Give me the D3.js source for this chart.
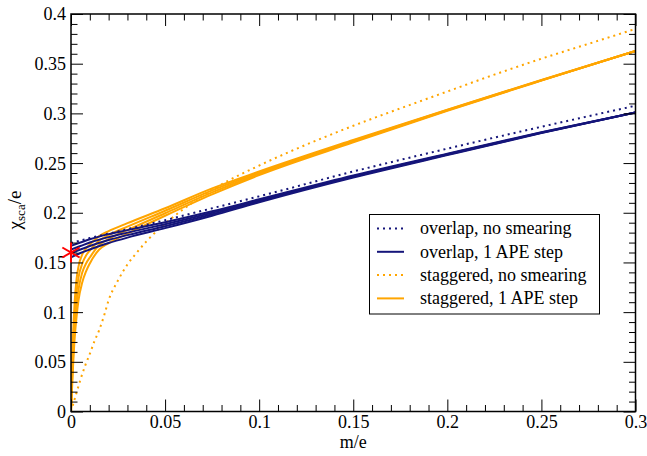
<!DOCTYPE html>
<html>
<head>
<meta charset="utf-8">
<script src="https://cdn.jsdelivr.net/npm/d3@7"></script>
<style>
  html, body { margin: 0; padding: 0; background: #fff; }
  svg, svg text { font-family: "Liberation Serif", "DejaVu Serif", "Times New Roman", serif; }
</style>
</head>
<body>
<svg id="chart" width="647" height="456"></svg>
<script>
// Overlap fermions, 1 APE smearing step: four curves on a common mass grid
const overlapApeMass = [0, 0.005, 0.01, 0.02, 0.03, 0.05, 0.075, 0.1, 0.15, 0.2, 0.25, 0.3];
const overlapApe1 = [0.1668, 0.1700, 0.1733, 0.1785, 0.1825, 0.1905, 0.2015, 0.2135, 0.2375, 0.2595, 0.2810, 0.3010];
const overlapApe2 = [0.1630, 0.1665, 0.1700, 0.1755, 0.1800, 0.1885, 0.2000, 0.2125, 0.2368, 0.2590, 0.2807, 0.3010];
const overlapApe3 = [0.1592, 0.1630, 0.1665, 0.1725, 0.1775, 0.1865, 0.1985, 0.2115, 0.2361, 0.2585, 0.2804, 0.3010];
const overlapApe4 = [0.1552, 0.1595, 0.1630, 0.1695, 0.1750, 0.1845, 0.1970, 0.2105, 0.2354, 0.2580, 0.2801, 0.3010];

// Overlap fermions, no smearing
const overlapRawMass = [0, 0.01, 0.02, 0.05, 0.075, 0.1, 0.15, 0.2, 0.25, 0.3];
const overlapRaw = [0.1695, 0.1745, 0.1790, 0.1925, 0.2045, 0.2165, 0.2415, 0.2645, 0.2865, 0.3077];

// Staggered fermions, 1 APE smearing step: four curves
const staggeredApeMass = [0, 0.0005, 0.001, 0.002, 0.003, 0.004, 0.006, 0.008, 0.01, 0.015, 0.02, 0.03, 0.05, 0.075, 0.1, 0.15, 0.2, 0.25, 0.3];
const staggeredApe1 = [0, 0.040, 0.072, 0.112, 0.134, 0.146, 0.158, 0.164, 0.1680, 0.1765, 0.1815, 0.1895, 0.2045, 0.2245, 0.2415, 0.2732, 0.3038, 0.3336, 0.3628];
const staggeredApe2 = [0, 0.032, 0.060, 0.098, 0.121, 0.135, 0.149, 0.157, 0.1620, 0.1720, 0.1775, 0.1860, 0.2020, 0.2225, 0.2403, 0.2724, 0.3034, 0.3334, 0.3628];
const staggeredApe3 = [0, 0.026, 0.050, 0.086, 0.108, 0.123, 0.140, 0.149, 0.1550, 0.1675, 0.1735, 0.1825, 0.1995, 0.2205, 0.2391, 0.2716, 0.3030, 0.3332, 0.3628];
const staggeredApe4 = [0, 0.021, 0.042, 0.075, 0.096, 0.112, 0.130, 0.141, 0.1490, 0.1630, 0.1695, 0.1790, 0.1970, 0.2185, 0.2379, 0.2708, 0.3026, 0.3330, 0.3628];

// Staggered fermions, no smearing
const staggeredRawMass = [0, 0.0025, 0.005, 0.0075, 0.01, 0.0125, 0.015, 0.0175, 0.02, 0.025, 0.03, 0.035, 0.04, 0.05, 0.06, 0.07, 0.08, 0.1, 0.125, 0.15, 0.175, 0.2, 0.225, 0.25, 0.275, 0.3];
const staggeredRaw = [0, 0.016, 0.032, 0.046, 0.058, 0.071, 0.082, 0.096, 0.112, 0.132, 0.148, 0.160, 0.171, 0.189, 0.204, 0.217, 0.2285, 0.2475, 0.2685, 0.2875, 0.305, 0.322, 0.339, 0.355, 0.370, 0.385];

// Reference point at m = 0
const referenceMass = [0];
const referenceValue = [0.16];

// Axis ticks
const xTickValues = [0, 0.05, 0.1, 0.15, 0.2, 0.25, 0.3];
const xTickLabels = ["0", "0.05", "0.1", "0.15", "0.2", "0.25", "0.3"];
const yTickValues = [0, 0.05, 0.1, 0.15, 0.2, 0.25, 0.3, 0.35, 0.4];
const yTickLabels = ["0", "0.05", "0.1", "0.15", "0.2", "0.25", "0.3", "0.35", "0.4"];

const legendLabels = ["overlap, no smearing", "overlap, 1 APE step", "staggered, no smearing", "staggered, 1 APE step"];

const NAVY = "#15157a";
const ORANGE = "#ffa500";
const SERIF = '"Liberation Serif", "DejaVu Serif", "Times New Roman", serif';
const FONT_SIZE = 18;

const svg = d3.select("#chart");
const plot = { left: 71, right: 635.5, top: 14, bottom: 411.5 };

const x = d3.scaleLinear().domain([0, 0.3]).range([plot.left, plot.right]);
const y = d3.scaleLinear().domain([0, 0.4]).range([plot.bottom, plot.top]);

svg.append("defs").append("clipPath").attr("id", "plotClip")
  .append("rect")
  .attr("x", plot.left).attr("y", plot.top)
  .attr("width", plot.right - plot.left).attr("height", plot.bottom - plot.top);

const zip = (ms, vs) => ms.map((m, i) => [m, vs[i]]);
const line = d3.line().x(d => x(d[0])).y(d => y(d[1])).curve(d3.curveMonotoneX);

const series = [
  { mass: staggeredRawMass, values: [staggeredRaw], color: ORANGE, dotted: true },
  { mass: staggeredApeMass, values: [staggeredApe1, staggeredApe2, staggeredApe3, staggeredApe4], color: ORANGE, dotted: false },
  { mass: overlapRawMass, values: [overlapRaw], color: NAVY, dotted: true },
  { mass: overlapApeMass, values: [overlapApe1, overlapApe2, overlapApe3, overlapApe4], color: NAVY, dotted: false }
];

const curves = svg.append("g").attr("clip-path", "url(#plotClip)");
series.forEach(s => {
  s.values.forEach(vals => {
    curves.append("path")
      .attr("d", line(zip(s.mass, vals)))
      .attr("fill", "none")
      .attr("stroke", s.color)
      .attr("stroke-width", 2)
      .attr("stroke-dasharray", s.dotted ? "2,4" : null);
  });
});

// Axes: inward ticks on all four sides, minor ticks every 0.01
const majorLen = 12, minorLen = 6.5;
const xMinor = d3.range(0, 31).map(i => i / 100).filter(v => !xTickValues.some(t => Math.abs(t - v) < 1e-9));
const yMinor = d3.range(0, 41).map(i => i / 100).filter(v => !yTickValues.some(t => Math.abs(t - v) < 1e-9));

function axisGroup(axisFn, scale, transform, majors, minors, labels, showLabels) {
  const g = svg.append("g").attr("transform", transform);
  g.call(axisFn(scale).tickValues(minors).tickSize(-minorLen).tickFormat(""));
  g.select(".domain").remove();
  const gm = svg.append("g").attr("transform", transform);
  gm.call(axisFn(scale).tickValues(majors).tickSize(-majorLen).tickPadding(showLabels ? 4 : 0)
    .tickFormat((d, i) => showLabels ? labels[i] : ""));
  gm.select(".domain").remove();
  [g, gm].forEach(gg => {
    gg.attr("font-family", SERIF).attr("font-size", FONT_SIZE);
    gg.selectAll(".tick line").attr("stroke", "#000").attr("stroke-width", 1);
  });
  gm.selectAll(".tick text").attr("font-size", FONT_SIZE).attr("fill", "#000")
    .style("font-family", SERIF);
  return gm;
}

const xBottom = axisGroup(d3.axisBottom, x, `translate(0,${plot.bottom})`, xTickValues, xMinor, xTickLabels, true);
// baseline of the x tick labels about 16.5 px under the axis
xBottom.selectAll(".tick text").attr("y", 16.5).attr("dy", 0);
// top axis ticks point down into the plot
axisGroup(d3.axisTop, x, `translate(0,${plot.top})`, xTickValues, xMinor, xTickLabels, false);
const yLeft = axisGroup(d3.axisLeft, y, `translate(${plot.left},0)`, yTickValues, yMinor, yTickLabels, true);
yLeft.selectAll(".tick text").attr("x", -5).attr("dy", "0.33em");
axisGroup(d3.axisRight, y, `translate(${plot.right},0)`, yTickValues, yMinor, yTickLabels, false);

// Frame
svg.append("rect")
  .attr("x", plot.left).attr("y", plot.top)
  .attr("width", plot.right - plot.left).attr("height", plot.bottom - plot.top)
  .attr("fill", "none").attr("stroke", "#000").attr("stroke-width", 1.5);

// Reference point: red asterisk
const star = svg.append("g");
referenceMass.forEach((m, i) => {
  const cx = x(m), cy = y(referenceValue[i]), r = 10;
  [90, 30, -30].forEach(a => {
    const rad = a * Math.PI / 180;
    star.append("line")
      .attr("x1", cx - r * Math.cos(rad)).attr("y1", cy - r * Math.sin(rad))
      .attr("x2", cx + r * Math.cos(rad)).attr("y2", cy + r * Math.sin(rad))
      .attr("stroke", "#ff0000").attr("stroke-width", 2);
  });
});

// Axis titles
svg.append("text")
  .attr("x", (plot.left + plot.right) / 2).attr("y", 448)
  .attr("text-anchor", "middle").attr("font-size", FONT_SIZE)
  .style("font-family", SERIF).text("m/e");

const yTitle = svg.append("text")
  .attr("transform", `translate(21,210) rotate(-90)`)
  .attr("text-anchor", "middle").attr("font-size", 19)
  .style("font-family", SERIF);
yTitle.append("tspan").text("χ");
yTitle.append("tspan").attr("font-size", 13).attr("dy", 4).text("sca");
yTitle.append("tspan").attr("dy", -4).text("/e");

// Legend
const legend = svg.append("g");
legend.append("rect")
  .attr("x", 369.5).attr("y", 214.5).attr("width", 230).attr("height", 99.5)
  .attr("fill", "#fff").attr("stroke", "#000").attr("stroke-width", 1);
const legendStyles = [
  { color: NAVY, dotted: true },
  { color: NAVY, dotted: false },
  { color: ORANGE, dotted: true },
  { color: ORANGE, dotted: false }
];
legendLabels.forEach((lab, i) => {
  const ly = 228.5 + i * 23.3;
  legend.append("line")
    .attr("x1", 377).attr("x2", 404).attr("y1", ly).attr("y2", ly)
    .attr("stroke", legendStyles[i].color).attr("stroke-width", 2)
    .attr("stroke-dasharray", legendStyles[i].dotted ? "2,4" : null);
  legend.append("text")
    .attr("x", 420).attr("y", ly).attr("dy", "0.33em")
    .attr("font-size", FONT_SIZE).style("font-family", SERIF).text(lab);
});
</script>
</body>
</html>
